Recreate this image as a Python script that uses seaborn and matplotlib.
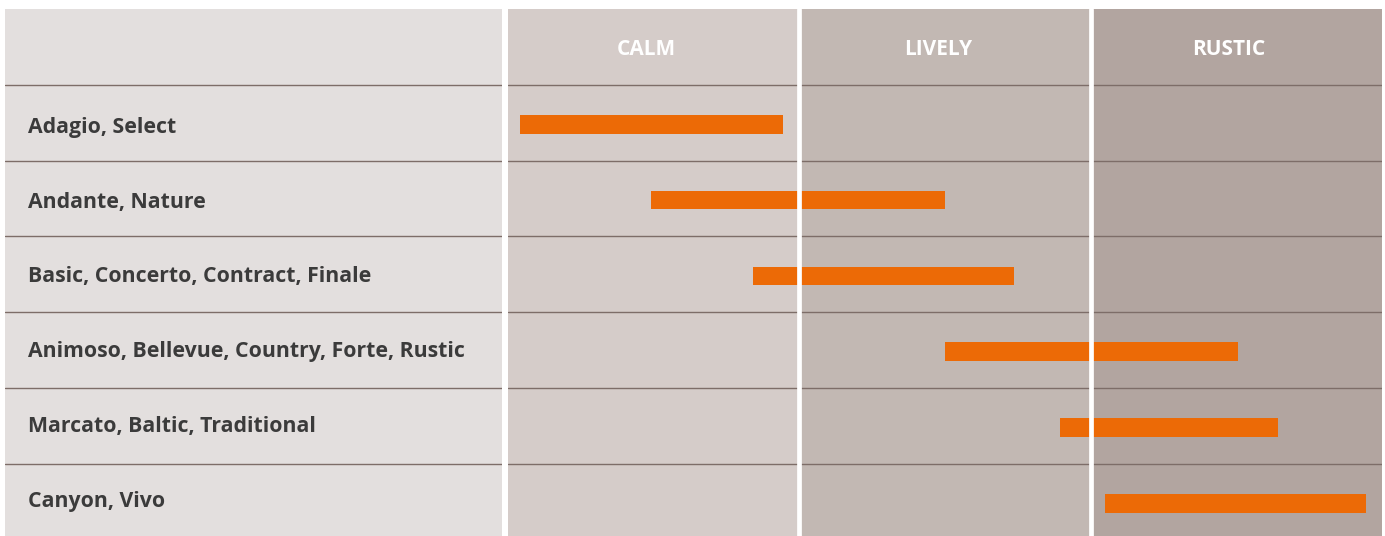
import matplotlib
matplotlib.use("Agg")
import matplotlib.pyplot as plt
import seaborn as sns
import pandas as pd

# ---- data ----
categories = [
    "Adagio, Select",
    "Andante, Nature",
    "Basic, Concerto, Contract, Finale",
    "Animoso, Bellevue, Country, Forte, Rustic",
    "Marcato, Baltic, Traditional",
    "Canyon, Vivo",
]
range_start = [0.04, 0.49, 0.84, 1.50, 1.895, 2.05]
range_end = [0.945, 1.50, 1.737, 2.505, 2.643, 2.946]
columns = ["CALM", "LIVELY", "RUSTIC"]

df = pd.DataFrame({"category": categories, "start": range_start, "end": range_end})

sns.set_theme(style="white")
plt.rcParams["font.family"] = ["Open Sans", "DejaVu Sans"]

W, H = 1385, 536
fig = plt.figure(figsize=(W / 100, H / 100), dpi=100)
fig.patch.set_facecolor("white")

col_bg = ["#d5ccc9", "#c2b8b3", "#b2a5a0"]
left_bg = "#e3dfde"
line_c = "#7d6d68"
bar_c = "#ec6a06"
text_c = "#3b3b3b"

top_px = 9
ylim = (-1.5 + (H - top_px) / 75.8, -1.5)
ax_h = (H - top_px) / H

# left label panel
axl = fig.add_axes([5 / W, 0, 497 / W, ax_h])
axl.set_facecolor(left_bg)
axl.set_xlim(0, 1)
axl.set_ylim(*ylim)
for s in axl.spines.values():
    s.set_visible(False)
axl.set_xticks([]); axl.set_yticks([])
for y in [i + 0.5 for i in range(-1, len(categories) - 1)]:
    axl.axhline(y, color=line_c, lw=1.0, zorder=1)
for i, lab in enumerate(df["category"]):
    axl.text(23 / 497, i * 0.987 + 0.06, lab, ha="left", va="center", fontsize=15.3,
             fontweight="bold", color=text_c)

# bar panel
ax = fig.add_axes([508 / W, 0, (1382 - 508) / W, ax_h])
ax.set_xlim(0, 3)
ax.set_ylim(*ylim)
for s in ax.spines.values():
    s.set_visible(False)
ax.set_xticks([]); ax.set_yticks([])
for j, c in enumerate(col_bg):
    ax.axvspan(j, j + 1, color=c, lw=0, zorder=0)
for y in [i + 0.5 for i in range(-1, len(categories) - 1)]:
    ax.axhline(y, color=line_c, lw=1.0, zorder=1)

ax.barh(y=[i + 0.02 for i in range(len(df))], width=df["end"] - df["start"],
        left=df["start"], height=0.245, color=bar_c, linewidth=0, zorder=2)

for j, name in enumerate(columns):
    ax.text(j + 0.475, -0.97, name, ha="center", va="center", fontsize=15,
            fontweight="bold", color="white", zorder=4)

for xg in [1, 2]:
    ax.axvline(xg, color="white", lw=3.4, zorder=5)

fig.savefig("out.png", dpi=100, facecolor="white")
